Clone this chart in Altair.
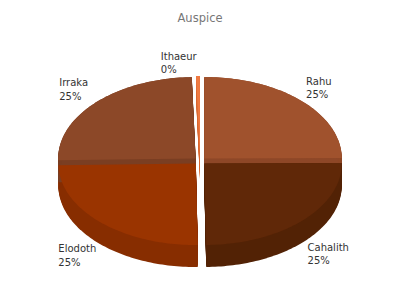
import altair as alt
import pandas as pd

# ---- data ----
labels = ["Rahu", "Cahalith", "Elodoth", "Irraka", "Ithaeur"]
values = [25, 25, 25, 25, 0.45]
face_colors = ["#A0522D", "#602808", "#9A3400", "#8C4828", "#F07A42"]
wall_colors = ["#8E4727", "#522205", "#872D00", "#7A3E22", "#D8662F"]

df = pd.DataFrame({"label": labels, "value": values, "idx": list(range(len(labels)))})

# ---- geometry (page pixels) ----
CX, CY, RX, RY, D, E, N = 200, 161, 137.5, 81.5, 22, 6, 72

xs = alt.Scale(domain=[0, 400], nice=False, zero=False)
ys = alt.Scale(domain=[30, 300], nice=False, zero=False, reverse=True)

base = (
    alt.Chart(df)
    .transform_window(cum="sum(value)", sort=[alt.SortField("idx")], frame=[None, 0])
    .transform_joinaggregate(total="sum(value)")
    .transform_calculate(
        a0="2*PI*(datum.cum - datum.value)/datum.total",
        a1="2*PI*datum.cum/datum.total",
    )
    .transform_calculate(
        mid="(datum.a0 + datum.a1)/2",
    )
    .transform_calculate(
        ex=f"{E}*sin(datum.mid)",
        ey=f"-{E}*cos(datum.mid)*{RY}/{RX}",
    )
)

poly = (
    base.transform_calculate(pts=f"sequence(0, {N + 2})")
    .transform_flatten(["pts"])
    .transform_calculate(ang=f"datum.a0 + (datum.a1 - datum.a0)*(datum.pts - 1)/{N}")
    .transform_calculate(
        px=f"{CX} + datum.ex + (datum.pts == 0 ? 0 : {RX}*sin(datum.ang))",
        py=f"{CY} + datum.ey - (datum.pts == 0 ? 0 : {RY}*cos(datum.ang))",
    )
)

walls = (
    poly.transform_calculate(off=f"sequence(0, {D + 1})")
    .transform_flatten(["off"])
    .transform_calculate(py2="datum.py + datum.off", grp="datum.label + '_' + datum.off")
    .mark_line(filled=True, strokeWidth=0)
    .encode(
        x=alt.X("px:Q", scale=xs, axis=None),
        y=alt.Y("py2:Q", scale=ys, axis=None),
        color=alt.Color("label:N", scale=alt.Scale(domain=labels, range=wall_colors), legend=None),
        detail="grp:N",
        order="pts:Q",
    )
)

faces = poly.mark_line(filled=True, strokeWidth=0).encode(
    x=alt.X("px:Q", scale=xs, axis=None),
    y=alt.Y("py:Q", scale=ys, axis=None),
    color=alt.Color("label:N", scale=alt.Scale(domain=labels, range=face_colors), legend=None),
    detail="label:N",
    order="pts:Q",
)

texts = (
    base.transform_calculate(
        ax=f"{CX} + {RX + 13}*sin(datum.mid)",
        ay=f"{CY} - {RY + 5}*cos(datum.mid)",
        pct="round(datum.value/datum.total*100) + '%'",
    )
    .transform_calculate(w="max(length(datum.label), length(datum.pct))*5.3")
    .transform_calculate(
        lx="sin(datum.mid) >= 0 ? datum.ax : datum.ax - datum.w",
        ly=f"cos(datum.mid) > 0 ? datum.ay - 15 : datum.ay + {D} + 7",
        txt="[datum.label, datum.pct]",
    )
    .mark_text(align="left", baseline="alphabetic", lineHeight=13.5,
               font="DejaVu Sans", fontSize=10, color="#333333")
    .encode(
        x=alt.X("lx:Q", scale=xs, axis=None),
        y=alt.Y("ly:Q", scale=ys, axis=None),
        text="txt:N",
    )
)

chart = (
    alt.layer(walls, faces, texts)
    .resolve_scale(color="independent")
    .properties(
        width=400,
        height=270,
        title=alt.Title("Auspice", color="#777777", fontSize=11.5, font="DejaVu Sans",
                        fontWeight="normal", anchor="middle", baseline="alphabetic", offset=-3),
        autosize=alt.AutoSizeParams(type="none"),
        padding={"top": 30, "left": 0, "right": 0, "bottom": 0},
        background="white",
    )
    .configure_view(stroke=None)
)

chart.save("out.html", embed_options={"renderer": "svg", "actions": False})
